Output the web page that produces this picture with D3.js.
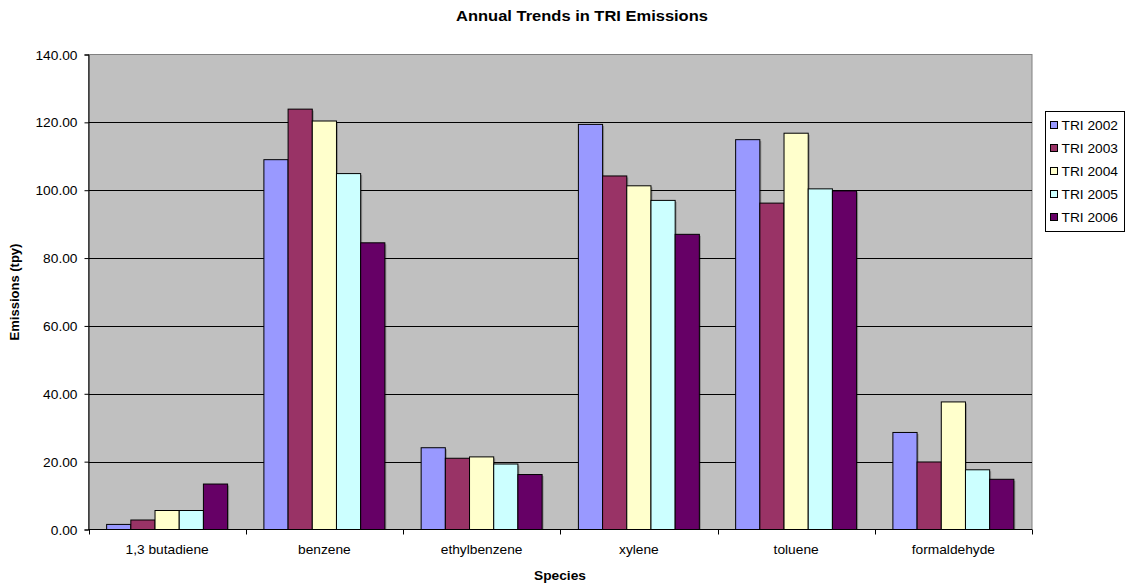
<!DOCTYPE html>
<html>
<head>
<meta charset="utf-8">
<script src="https://cdn.jsdelivr.net/npm/d3@7"></script>
<style>
  body { margin: 0; background: #fff; }
  svg { display: block; font-family: "Liberation Sans", Arial, sans-serif; }
</style>
</head>
<body>
<svg id="chart" width="1126" height="584"></svg>
<script>
// Annual TRI emissions (tons per year) by species
const species = ["1,3 butadiene", "benzene", "ethylbenzene", "xylene", "toluene", "formaldehyde"];
const seriesNames = ["TRI 2002", "TRI 2003", "TRI 2004", "TRI 2005", "TRI 2006"];
const tri2002 = [1.5, 109.0, 24.1, 119.4, 114.9, 28.6];
const tri2003 = [2.8, 123.9, 21.0, 104.2, 96.2, 19.9];
const tri2004 = [5.6, 120.4, 21.4, 101.3, 116.8, 37.6];
const tri2005 = [5.6, 104.9, 19.3, 97.0, 100.4, 17.6];
const tri2006 = [13.4, 84.5, 16.2, 87.0, 99.8, 14.8];
const yTicks = [0, 20, 40, 60, 80, 100, 120, 140];
const colors = ["#9999FF", "#993366", "#FFFFCC", "#CCFFFF", "#660066"];

const series = [tri2002, tri2003, tri2004, tri2005, tri2006];

const svg = d3.select("#chart");
const plot = { left: 88.5, right: 1032, top: 54.5, bottom: 529.5 };
const stretch = 1.1; // horizontal text widening

const x0 = d3.scaleBand().domain(species).range([plot.left, plot.right]).paddingInner(0).paddingOuter(0);
// gap width 150% of a bar between clusters
const barW = x0.bandwidth() / (seriesNames.length + 1.5);
const x1 = d3.scaleBand().domain(seriesNames)
  .range([barW * 0.75, barW * 0.75 + barW * seriesNames.length]).padding(0);
const y = d3.scaleLinear().domain([0, 140]).range([plot.bottom, plot.top]);

// horizontal text helper
function label(parent, x, yPos, txt, size, anchor, bold) {
  return parent.append("text")
    .attr("transform", `translate(${x},${yPos}) scale(${stretch},1)`)
    .attr("text-anchor", anchor).attr("font-size", size)
    .attr("font-weight", bold ? "bold" : "normal").attr("fill", "#000")
    .text(txt);
}

// plot area
svg.append("rect")
  .attr("x", plot.left).attr("y", plot.top)
  .attr("width", plot.right - plot.left).attr("height", plot.bottom - plot.top)
  .attr("fill", "#C0C0C0").attr("stroke", "#808080").attr("stroke-width", 1);

// gridlines
svg.append("g").selectAll("line").data(yTicks.filter(d => d > 0 && d < 140)).join("line")
  .attr("x1", plot.left).attr("x2", plot.right)
  .attr("y1", d => Math.round(y(d)) + 0.5).attr("y2", d => Math.round(y(d)) + 0.5)
  .attr("stroke", "#000").attr("stroke-width", 1);

// bars
const groups = svg.append("g").selectAll("g").data(species).join("g")
  .attr("transform", d => `translate(${x0(d)},0)`);

groups.each(function(sp, i) {
  const g = d3.select(this);
  const vals = seriesNames.map((s, k) => ({ s, v: series[k][i], c: colors[k] }));
  // soft drop shadow
  g.selectAll("rect.shadow").data(vals).join("rect").attr("class", "shadow")
    .attr("x", d => x1(d.s) + 1.5).attr("y", d => y(d.v) + 1.5)
    .attr("width", x1.bandwidth()).attr("height", d => plot.bottom - y(d.v) - 1.5)
    .attr("fill", "#000").attr("opacity", 0.25);
  g.selectAll("rect.bar").data(vals).join("rect").attr("class", "bar")
    .attr("x", d => x1(d.s)).attr("y", d => y(d.v))
    .attr("width", x1.bandwidth()).attr("height", d => plot.bottom - y(d.v))
    .attr("fill", d => d.c).attr("stroke", "#000").attr("stroke-width", 1);
});

// y axis
const yAxis = d3.axisLeft(y).tickValues(yTicks).tickFormat("").tickSize(4);
const gy = svg.append("g").attr("transform", `translate(${plot.left},0)`).call(yAxis);
gy.select(".domain").attr("stroke", "#000");
gy.selectAll(".tick line").attr("stroke", "#000");
gy.selectAll(".tick").each(function(d) {
  label(d3.select(this), -11, 4.5, d3.format(".2f")(d), 12.5, "end", false);
});

// x axis with ticks between categories
const gx = svg.append("g").attr("transform", `translate(0,${plot.bottom})`);
gx.append("line").attr("x1", plot.left).attr("x2", plot.right).attr("y1", 0).attr("y2", 0).attr("stroke", "#000");
const bounds = species.map(d => x0(d)).concat([plot.right]);
gx.selectAll("line.tk").data(bounds).join("line").attr("class", "tk")
  .attr("x1", d => Math.round(d) + 0.5).attr("x2", d => Math.round(d) + 0.5)
  .attr("y1", 0).attr("y2", 5).attr("stroke", "#000");
species.forEach(d => label(gx, x0(d) + x0.bandwidth() / 2, 24.5, d, 12.5, "middle", false));

// titles
label(svg, 582, 21, "Annual Trends in TRI Emissions", 15, "middle", true);
label(svg, 560, 580, "Species", 12.5, "middle", true);
svg.append("text").attr("transform", `translate(19,${(plot.top + plot.bottom) / 2}) rotate(-90)`)
  .attr("text-anchor", "middle").attr("font-size", 13).attr("font-weight", "bold").text("Emissions (tpy)");

// legend
const lg = svg.append("g").attr("transform", "translate(1045.5,111.5)");
lg.append("rect").attr("width", 79).attr("height", 120).attr("fill", "#fff").attr("stroke", "#000");
const items = lg.selectAll("g").data(seriesNames).join("g")
  .attr("transform", (d, i) => `translate(5,${14 + i * 23})`);
items.append("rect").attr("x", 0).attr("y", -4).attr("width", 7).attr("height", 7)
  .attr("fill", (d, i) => colors[i]).attr("stroke", "#000");
items.each(function(d) { label(d3.select(this), 11, 4.5, d, 12.5, "start", false); });
</script>
</body>
</html>
